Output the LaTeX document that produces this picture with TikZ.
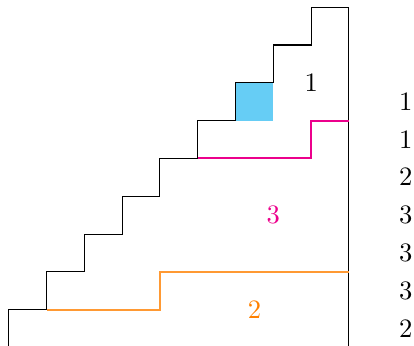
\documentclass[tikz,border=0pt]{standalone}
\usepackage{tikz}
\definecolor{cellblue}{RGB}{102,205,245}
\definecolor{pathpink}{RGB}{236,0,140}
\definecolor{pathorange}{RGB}{255,128,0}
\begin{document}
\begin{tikzpicture}[x=0.5cm,y=0.5cm,
  stair/.style={draw=black,line width=0.4pt},
  pinkline/.style={draw=pathpink,line width=0.8pt},
  orangeline/.style={draw=pathorange!80,line width=0.75pt},
  rowlabel/.style={inner sep=0pt}]
\useasboundingbox (-0.23,0.04) rectangle (10.72,9.19);
\fill[cellblue] (6,6) rectangle (7,7);
\draw[stair] (0,0) -- (0,1) -- (1,1) -- (1,2) -- (2,2) -- (2,3) -- (3,3) -- (3,4) -- (4,4) -- (4,5) -- (5,5) -- (5,6) -- (6,6) -- (6,7) -- (7,7) -- (7,8) -- (8,8) -- (8,9) -- (9,9) -- (9,0);
\draw[pinkline] (5,5) -- (8,5) -- (8,6) -- (9,6);
\draw[orangeline] (1,1) -- (4,1) -- (4,2) -- (9,2);
\node[rowlabel] (one) at (8,7) {$1$};
\node[rowlabel,text=pathpink] (three) at (7,3.5) {$3$};
\node[rowlabel,text=pathorange] (two) at (6.5,1) {$2$};
\node[rowlabel] (r6) at (10.5,6.5) {$1$};
\node[rowlabel] (r5) at (10.5,5.5) {$1$};
\node[rowlabel] (r4) at (10.5,4.5) {$2$};
\node[rowlabel] (r3) at (10.5,3.5) {$3$};
\node[rowlabel] (r2) at (10.5,2.5) {$3$};
\node[rowlabel] (r1) at (10.5,1.5) {$3$};
\node[rowlabel] (r0) at (10.5,0.5) {$2$};
\end{tikzpicture}
\end{document}
